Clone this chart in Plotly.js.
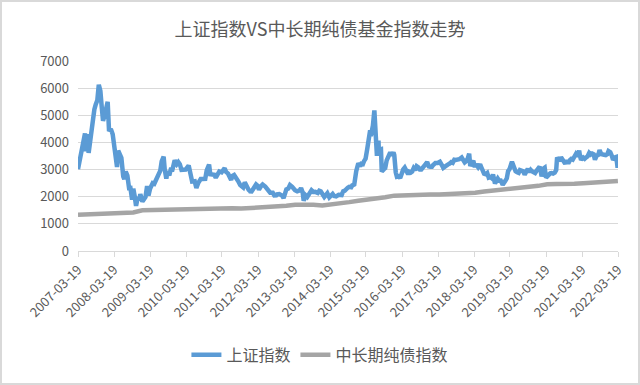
<!DOCTYPE html>
<html><head><meta charset="utf-8">
<script src="https://cdn.plot.ly/plotly-3.0.1.min.js"></script>
<style>html,body{margin:0;padding:0;background:#fff}#wrap{position:relative;width:640px;height:385px}#chart{width:640px;height:385px}#frame{position:absolute;left:0;top:0;width:640px;height:385px;box-sizing:border-box;border:2px solid #d9d9d9;pointer-events:none}</style>
</head><body><div id="wrap"><div id="chart"></div><div id="frame"></div></div>
<script>
const chartTitle = '上证指数VS中长期纯债基金指数走势';
const seriesNames = ['上证指数', '中长期纯债指数'];
const tickLabels = ['2007-03-19','2008-03-19','2009-03-19','2010-03-19','2011-03-19','2012-03-19','2013-03-19','2014-03-19','2015-03-19','2016-03-19','2017-03-19','2018-03-19','2019-03-19','2020-03-19','2021-03-19','2022-03-19'];
const yTicks = [0,1000,2000,3000,4000,5000,6000,7000];

// 上证指数 (date, value)
const sseSeries = [
['2007-03-19',3014],['2007-04-01',3252],['2007-04-15',3500],['2007-05-01',3841],['2007-05-15',4050],['2007-05-29',4335],['2007-06-04',3670],['2007-06-20',4300],['2007-07-05',3615],['2007-07-20',4058],['2007-08-01',4300],['2007-08-15',4870],['2007-09-01',5218],['2007-09-15',5400],['2007-10-01',5552],['2007-10-16',6124],['2007-11-01',5900],['2007-11-15',5300],['2007-11-28',4800],['2007-12-15',5000],['2007-12-31',5261],
['2008-01-14',5497],['2008-01-28',4419],['2008-02-15',4500],['2008-03-05',4300],['2008-03-20',3800],['2008-04-18',3094],['2008-04-30',3693],['2008-05-15',3600],['2008-06-01',3433],['2008-06-20',2748],['2008-07-01',2651],['2008-07-15',2930],['2008-08-01',2775],['2008-08-18',2319],['2008-09-01',2325],['2008-09-18',1895],['2008-09-30',2293],['2008-10-15',2000],['2008-10-28',1664],['2008-11-15',1990],['2008-11-30',1871],['2008-12-10',2100],['2008-12-31',1821],
['2009-01-15',1900],['2009-02-01',1991],['2009-02-17',2389],['2009-03-03',2050],['2009-03-20',2300],['2009-04-15',2500],['2009-05-01',2477],['2009-05-20',2650],['2009-06-15',2800],['2009-07-01',2959],['2009-07-15',3300],['2009-08-04',3478],['2009-08-15',3000],['2009-08-31',2667],['2009-09-15',2950],['2009-09-30',2779],['2009-10-15',3000],['2009-11-01',2995],['2009-11-24',3338],['2009-12-15',3200],['2009-12-31',3277],
['2010-01-15',3200],['2010-02-01',2989],['2010-02-20',3000],['2010-03-15',3000],['2010-04-15',3150],['2010-04-30',2870],['2010-05-20',2560],['2010-06-15',2570],['2010-07-02',2319],['2010-07-20',2500],['2010-08-15',2650],['2010-09-01',2650],['2010-09-30',2656],['2010-10-15',2970],['2010-11-08',3186],['2010-11-20',2830],['2010-12-01',2820],['2010-12-31',2808],
['2011-01-15',2700],['2011-01-31',2791],['2011-02-20',2930],['2011-03-15',2900],['2011-04-15',3050],['2011-04-30',2911],['2011-05-20',2850],['2011-06-20',2620],['2011-07-01',2762],['2011-07-20',2800],['2011-08-15',2600],['2011-08-31',2567],['2011-09-20',2430],['2011-10-20',2340],['2011-11-05',2528],['2011-11-30',2333],['2011-12-15',2250],['2011-12-31',2199],
['2012-01-06',2150],['2012-01-31',2292],['2012-02-28',2450],['2012-03-15',2400],['2012-03-28',2260],['2012-04-20',2400],['2012-05-04',2450],['2012-05-31',2373],['2012-06-15',2300],['2012-06-29',2225],['2012-07-20',2150],['2012-08-15',2150],['2012-08-31',2047],['2012-09-20',2050],['2012-09-28',2086],['2012-10-20',2100],['2012-11-15',2050],['2012-12-03',1949],['2012-12-20',2150],['2012-12-31',2269],
['2013-01-20',2300],['2013-02-06',2432],['2013-02-28',2365],['2013-03-15',2280],['2013-03-29',2237],['2013-04-20',2200],['2013-05-15',2230],['2013-05-29',2320],['2013-06-15',2150],['2013-06-25',1849],['2013-07-15',2050],['2013-07-31',1994],['2013-08-15',2100],['2013-09-12',2240],['2013-09-30',2175],['2013-10-20',2180],['2013-11-15',2140],['2013-11-30',2220],['2013-12-15',2200],['2013-12-31',2116],
['2014-01-20',1990],['2014-01-30',2033],['2014-02-20',2130],['2014-03-12',1974],['2014-03-31',2033],['2014-04-15',2100],['2014-04-30',2026],['2014-05-20',2010],['2014-06-15',2070],['2014-06-30',2048],['2014-07-15',2060],['2014-07-31',2202],['2014-08-15',2220],['2014-09-15',2330],['2014-09-30',2364],['2014-10-20',2350],['2014-10-31',2420],['2014-11-20',2450],['2014-11-28',2683],['2014-12-10',2940],['2014-12-31',3235],
['2015-01-19',3116],['2015-01-31',3210],['2015-02-15',3200],['2015-02-27',3310],['2015-03-15',3400],['2015-03-31',3748],['2015-04-15',4100],['2015-04-30',4442],['2015-05-07',4230],['2015-05-28',4620],['2015-06-12',5178],['2015-06-19',4478],['2015-06-29',4050],['2015-07-08',3507],['2015-07-24',4070],['2015-07-27',3725],['2015-08-18',3750],['2015-08-26',2927],['2015-09-15',3005],['2015-09-30',3053],['2015-10-15',3340],['2015-11-05',3522],['2015-11-20',3630],['2015-12-04',3524],['2015-12-23',3636],['2015-12-31',3539],
['2016-01-07',3125],['2016-01-15',2900],['2016-01-27',2735],['2016-02-15',2750],['2016-02-29',2688],['2016-03-15',2860],['2016-03-31',3004],['2016-04-15',3070],['2016-04-30',2938],['2016-05-20',2825],['2016-05-31',2917],['2016-06-15',2890],['2016-06-30',2930],['2016-07-15',3054],['2016-07-31',2979],['2016-08-15',3125],['2016-08-31',3085],['2016-09-15',3002],['2016-09-30',3005],['2016-10-20',3084],['2016-10-31',3100],['2016-11-15',3206],['2016-11-29',3282],['2016-12-15',3117],['2016-12-30',3104],
['2017-01-16',3103],['2017-01-26',3159],['2017-02-20',3240],['2017-03-15',3240],['2017-04-07',3287],['2017-04-28',3155],['2017-05-11',3061],['2017-05-31',3117],['2017-06-20',3140],['2017-06-30',3192],['2017-07-15',3220],['2017-07-31',3273],['2017-08-15',3250],['2017-08-31',3361],['2017-09-15',3353],['2017-09-29',3349],['2017-10-20',3380],['2017-11-14',3447],['2017-11-30',3317],['2017-12-15',3267],['2017-12-29',3307],
['2018-01-15',3410],['2018-01-29',3587],['2018-02-09',3129],['2018-02-28',3259],['2018-03-12',3326],['2018-03-23',3153],['2018-04-15',3160],['2018-04-30',3082],['2018-05-20',3193],['2018-05-31',3095],['2018-06-19',2907],['2018-06-29',2847],['2018-07-15',2830],['2018-07-31',2876],['2018-08-15',2705],['2018-08-31',2725],['2018-09-15',2682],['2018-09-28',2821],['2018-10-18',2486],['2018-10-31',2603],['2018-11-15',2668],['2018-11-30',2588],['2018-12-15',2593],['2018-12-28',2494],
['2019-01-04',2440],['2019-01-31',2585],['2019-02-15',2680],['2019-02-28',2941],['2019-03-15',3021],['2019-04-08',3288],['2019-04-30',3078],['2019-05-15',2938],['2019-05-31',2899],['2019-06-15',2880],['2019-06-28',2979],['2019-07-15',2942],['2019-07-31',2933],['2019-08-15',2815],['2019-08-30',2886],['2019-09-16',3031],['2019-09-30',2905],['2019-10-15',2991],['2019-10-31',2929],['2019-11-15',2891],['2019-11-29',2872],['2019-12-15',2967],['2019-12-31',3050],
['2020-01-14',3106],['2020-01-23',2977],['2020-02-03',2746],['2020-02-21',3039],['2020-03-05',3071],['2020-03-19',2702],['2020-03-31',2750],['2020-04-15',2811],['2020-04-30',2860],['2020-05-15',2868],['2020-05-29',2852],['2020-06-15',2890],['2020-06-30',2985],['2020-07-09',3450],['2020-07-31',3310],['2020-08-18',3451],['2020-08-31',3396],['2020-09-15',3295],['2020-09-30',3218],['2020-10-15',3333],['2020-10-30',3225],['2020-11-16',3346],['2020-11-30',3392],['2020-12-15',3367],['2020-12-31',3473],
['2021-01-15',3566],['2021-01-29',3483],['2021-02-18',3696],['2021-02-26',3509],['2021-03-09',3360],['2021-03-31',3442],['2021-04-15',3398],['2021-04-30',3447],['2021-05-15',3490],['2021-05-31',3615],['2021-06-15',3556],['2021-06-30',3591],['2021-07-15',3565],['2021-07-28',3362],['2021-08-15',3517],['2021-08-31',3544],['2021-09-13',3715],['2021-09-30',3568],['2021-10-15',3573],['2021-10-29',3547],['2021-11-15',3533],['2021-11-30',3564],['2021-12-13',3681],['2021-12-31',3640],
['2022-01-14',3521],['2022-01-28',3361],['2022-02-15',3446],['2022-02-28',3462],['2022-03-09',3256],['2022-03-15',3064],['2022-03-18',3251]
];

// 中长期纯债指数 (date, value)
const bondSeries = [
['2007-03-19',1340],['2007-06-30',1360],['2007-09-30',1370],['2007-12-31',1380],['2008-03-31',1390],['2008-06-30',1400],['2008-09-30',1420],['2008-12-31',1500],
['2009-03-31',1510],['2009-06-30',1500],['2009-09-30',1495],['2009-12-31',1510],['2010-03-31',1530],['2010-06-30',1545],['2010-09-30',1560],['2010-12-31',1560],
['2011-03-31',1565],['2011-06-30',1575],['2011-09-30',1565],['2011-12-31',1580],['2012-03-31',1610],['2012-06-30',1640],['2012-09-30',1650],['2012-12-31',1665],
['2013-03-31',1700],['2013-06-30',1720],['2013-09-30',1700],['2013-12-31',1680],['2014-03-31',1710],['2014-06-30',1760],['2014-09-30',1800],['2014-12-31',1850],
['2015-03-31',1880],['2015-06-30',1930],['2015-09-30',1980],['2015-12-31',2040],['2016-03-31',2060],['2016-06-30',2070],['2016-09-30',2100],['2016-12-31',2080],
['2017-03-31',2085],['2017-06-30',2095],['2017-09-30',2110],['2017-12-31',2120],['2018-03-31',2150],['2018-06-30',2190],['2018-09-30',2230],['2018-12-31',2290],
['2019-03-31',2320],['2019-06-30',2340],['2019-09-30',2370],['2019-12-31',2400],['2020-03-31',2460],['2020-06-30',2470],['2020-09-30',2460],['2020-12-31',2480],
['2021-03-31',2500],['2021-06-30',2520],['2021-09-30',2550],['2021-12-31',2570],['2022-03-18',2580]
];

const txt = '#595959';
const fontFam = '"Noto Sans CJK SC", "Noto Sans", sans-serif';
const traces = [
  {x: sseSeries.map(d=>d[0]), y: sseSeries.map(d=>d[1]), name: seriesNames[0], type:'scatter', mode:'lines', line:{color:'#5B9BD5', width:4.5}},
  {x: bondSeries.map(d=>d[0]), y: bondSeries.map(d=>d[1]), name: seriesNames[1], type:'scatter', mode:'lines', line:{color:'#A5A5A5', width:4.5}}
];
const layout = {
  width:640, height:385,
  margin:{l:78, r:22, t:61, b:134},
  paper_bgcolor:'#fff', plot_bgcolor:'#fff',
  font:{family:fontFam, color:txt, size:13},
  title:{text:chartTitle, font:{family:fontFam, size:18, color:txt}, x:0.5, xanchor:'center', y:1-30/385, yanchor:'middle', yref:'container'},
  xaxis:{type:'date', range:[tickLabels[0], tickLabels[tickLabels.length-1]], tickmode:'array', tickvals:tickLabels, ticktext:tickLabels, tickangle:-45,
         showgrid:false, zeroline:false, showline:true, linecolor:'#d9d9d9', linewidth:1, ticks:'outside', ticklen:5, tickcolor:'#d9d9d9',
         tickfont:{size:13, color:txt}},
  yaxis:{range:[0,7000], tickmode:'array', tickvals:yTicks, showgrid:true, gridcolor:'#d9d9d9', gridwidth:1, zeroline:false, showline:false, ticks:'',
         tickfont:{size:13, color:txt}, ticklabelstandoff:8},
  showlegend:true,
  legend:{orientation:'h', x:0.448, xanchor:'center', y:-0.547, yanchor:'middle', font:{size:16, color:txt}, bgcolor:'rgba(0,0,0,0)', itemwidth:30, tracegroupgap:0}
};
Plotly.newPlot('chart', traces, layout, {displayModeBar:false, staticPlot:true});
</script></body></html>
